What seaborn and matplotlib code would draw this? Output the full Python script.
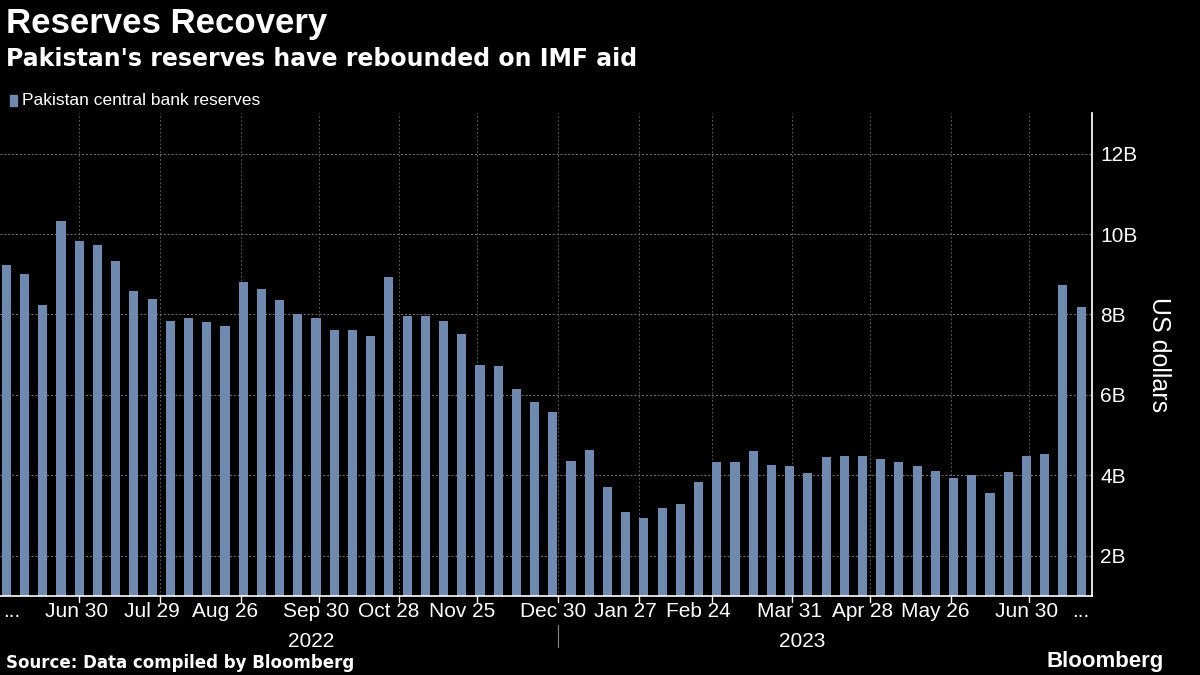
import matplotlib
matplotlib.use("Agg")
import matplotlib.pyplot as plt
import matplotlib.transforms as mtransforms
import numpy as np
import pandas as pd
import seaborn as sns

start = pd.Timestamp("2022-06-03")
reserves = [9.24, 9.0, 8.24, 10.32, 9.82, 9.72, 9.34, 8.59, 8.39, 7.84,
            7.91, 7.81, 7.71, 8.82, 8.64, 8.37, 8.01, 7.91, 7.61, 7.61,
            7.46, 8.92, 7.96, 7.96, 7.84, 7.51, 6.74, 6.71, 6.14, 5.83,
            5.58, 4.36, 4.63, 3.70, 3.10, 2.93, 3.20, 3.28, 3.83, 4.33,
            4.33, 4.61, 4.26, 4.23, 4.06, 4.46, 4.48, 4.48, 4.41, 4.33,
            4.23, 4.11, 3.93, 4.00, 3.55, 4.08, 4.48, 4.53, 8.74, 8.19]
tick_dates = ["2022-06-30", "2022-07-29", "2022-08-26", "2022-09-30", "2022-10-28",
              "2022-11-25", "2022-12-30", "2023-01-27", "2023-02-24", "2023-03-31",
              "2023-04-28", "2023-05-26", "2023-06-30"]
tick_labels = ["Jun 30", "Jul 29", "Aug 26", "Sep 30", "Oct 28", "Nov 25", "Dec 30",
               "Jan 27", "Feb 24", "Mar 31", "Apr 28", "May 26", "Jun 30"]
month_starts = pd.date_range("2022-07-01", "2023-07-01", freq="MS")

df = pd.DataFrame({"idx": np.arange(len(reserves)), "val": reserves})
df["base"] = 1.0

def pos(d):
    return (pd.Timestamp(d) - start).days / 7

sns.set_theme(style="dark")
plt.rcParams["font.family"] = ["Liberation Sans", "DejaVu Sans"]
fig = plt.figure(figsize=(12, 6.75), dpi=100, facecolor="black")
ax = fig.add_axes([0.0, 0.117, 0.91, 0.715], facecolor="black")

ax.bar(df["idx"], df["val"] - df["base"], bottom=df["base"], width=0.5,
       color="#7089ae", edgecolor="none", linewidth=0)
ax.set_xlim(-0.35, len(reserves) - 0.4)
ax.set_ylim(1, 13)
ax.yaxis.tick_right()
ax.yaxis.set_label_position("right")
ax.set_yticks([2, 4, 6, 8, 10, 12])
ax.set_yticklabels(["2B", "4B", "6B", "8B", "10B", "12B"], color="white", fontsize=15)
ax.set_ylabel("US dollars", color="white", fontsize=18, rotation=270, labelpad=24)
ax.grid(axis="y", color="#777777", linestyle=(0, (2, 2)), linewidth=0.7)
for d in month_starts:
    ax.axvline(pos(d), color="#555555", linestyle=(0, (2, 2)), linewidth=0.7, zorder=0)

xt = [0.3] + [pos(d) for d in tick_dates] + [len(reserves) - 1]
ax.set_xticks(xt)
ax.set_xticklabels(["..."] + tick_labels + ["..."], color="white", fontsize=15)
ax.tick_params(axis="x", length=0, pad=4)
ax.tick_params(axis="y", length=0, pad=6)
for s in ["top", "left"]:
    ax.spines[s].set_visible(False)
ax.spines["bottom"].set_color("white")
ax.spines["right"].set_color("white")
ax.spines["bottom"].set_linewidth(1.2)

trans = mtransforms.blended_transform_factory(ax.transData, ax.transAxes)
for d in month_starts:
    ax.plot([pos(d), pos(d)], [0, -0.012], color="white", lw=1, clip_on=False, transform=trans)
ax.text(pos("2022-09-28"), -0.075, "2022", color="white", fontsize=15, ha="center", va="top", transform=trans)
ax.text(pos("2023-04-05"), -0.075, "2023", color="white", fontsize=15, ha="center", va="top", transform=trans)
ax.plot([pos("2023-01-01")] * 2, [-0.06, -0.105], color="#888888", lw=0.8, clip_on=False, transform=trans)

fig.text(0.005, 0.965, "Reserves Recovery", color="white", fontsize=25, fontweight="bold", va="center")
fig.text(0.005, 0.912, "Pakistan's reserves have rebounded on IMF aid", color="white",
         fontsize=17, fontweight="bold", va="center", family=["DejaVu Sans"])
fig.patches.append(plt.Rectangle((0.008, 0.843), 0.006, 0.017, color="#7089ae", transform=fig.transFigure))
fig.text(0.018, 0.851, "Pakistan central bank reserves", color="white", fontsize=12.5, va="center")
fig.text(0.005, 0.018, "Source: Data compiled by Bloomberg", color="white", fontsize=12,
         fontweight="bold", va="center", family=["DejaVu Sans"])
fig.text(0.97, 0.02, "Bloomberg", color="white", fontsize=16, fontweight="bold", ha="right", va="center")

fig.savefig("out.png", dpi=100, facecolor="black")
